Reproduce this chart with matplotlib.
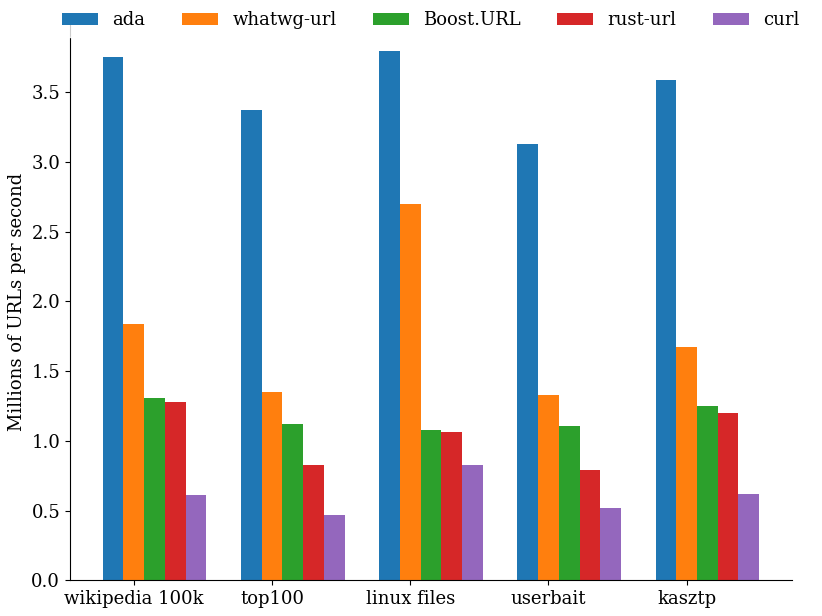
import matplotlib
matplotlib.use("Agg")
import matplotlib.pyplot as plt
import numpy as np

plt.rcParams['font.family'] = 'DejaVu Serif'

datasets = ["wikipedia 100k", "top100", "linux files", "userbait", "kasztp"]
libs = ["ada", "whatwg-url", "Boost.URL", "rust-url", "curl"]

# millions of URLs per second
ada = [3.75, 3.37, 3.80, 3.13, 3.59]
whatwg = [1.84, 1.35, 2.70, 1.33, 1.67]
boost = [1.31, 1.12, 1.08, 1.11, 1.25]
rust = [1.28, 0.83, 1.06, 0.79, 1.20]
curl = [0.61, 0.47, 0.83, 0.52, 0.62]

series = [ada, whatwg, boost, rust, curl]
width = 0.15
x = np.arange(len(datasets))

fig = plt.figure(figsize=(8.22, 6.16), dpi=100)
ax = fig.add_axes([0.085, 0.058, 0.8785, 0.903])

for i, vals in enumerate(series):
    ax.bar(x + (i - 1) * width, vals, width, label=libs[i])

ax.set_xticks(x)
ax.set_xticklabels(datasets, fontsize=13)
ax.tick_params(axis='y', labelsize=13)
ax.set_ylabel("Millions of URLs per second", fontsize=13)
ax.spines['top'].set_visible(False)
ax.spines['right'].set_visible(False)

fig.legend(loc='upper center', bbox_to_anchor=(0.524, 1.008), ncol=5,
           frameon=True, edgecolor='white', fontsize=13)

fig.savefig("out.png", dpi=100)
